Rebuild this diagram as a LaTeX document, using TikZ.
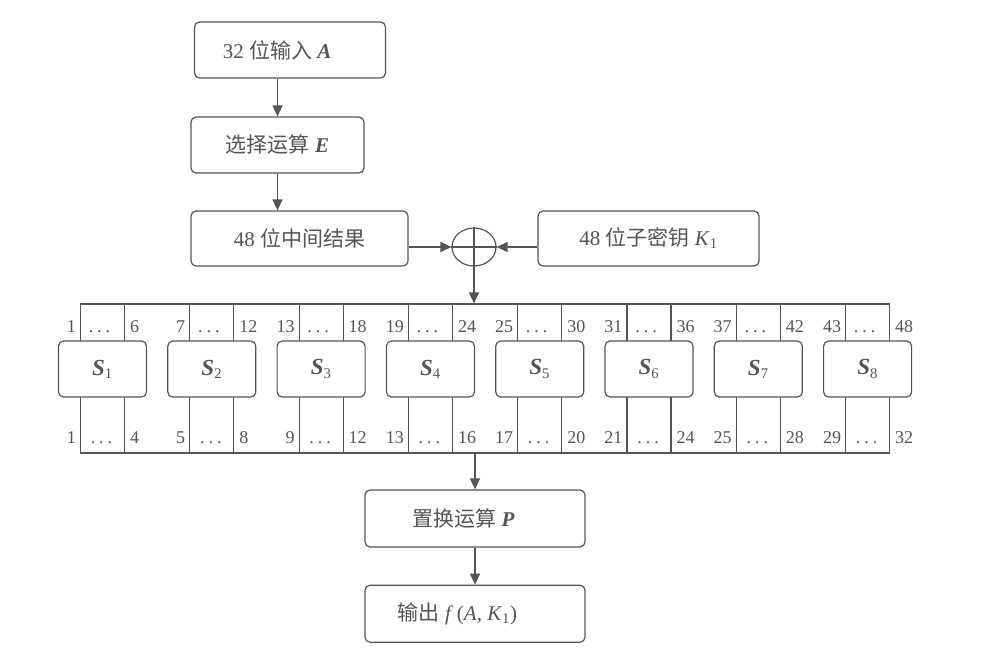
\documentclass[tikz,border=0pt]{standalone}
\usepackage{fontspec}
\setmainfont{Liberation Serif}
\newfontfamily\cjkfont{Noto Sans CJK SC}
\usetikzlibrary{positioning,arrows.meta,shapes.geometric}
\definecolor{lngray}{HTML}{555555}
\newcommand\sdots{.\hspace{4pt}.\hspace{4pt}.}

\begin{document}
\begin{tikzpicture}[x=1pt,y=-1pt,>={Triangle[length=11pt,width=10pt]},color=lngray,line width=1.2pt,
  box/.style={draw,rounded corners=5pt,fill=white,inner sep=0pt,minimum height=56pt,font=\fontsize{21}{24}\selectfont},
  sbox/.style={box,minimum width=88pt},
  pushleft/.style={execute at end node={\hspace*{#1}}},
  num/.style={inner sep=0pt,font=\fontsize{18}{20}\selectfont}]
\useasboundingbox (0,0) rectangle (981,654);
\node (inA) [box,minimum width=191pt,pushleft=26pt] at (290,50) {32 {\cjkfont 位输入} \textbf{\textit{A}}};
\node (selE) [box,minimum width=173pt] at (277.5,145) {{\cjkfont 选择运算} \textbf{\textit{E}}};
\node (mid48) [box,minimum width=217pt,minimum height=55pt] at (299.5,238.5) {48 {\cjkfont 位中间结果}};
\node (key) [box,minimum width=221pt,minimum height=55pt] at (648.5,238.5) {48 {\cjkfont 位子密钥} \textit{K}\textsubscript{1}};
\node (xor) [draw,ellipse,inner sep=0pt,minimum width=44pt,minimum height=38pt] at (474,247) {};
\draw (xor.north)--(xor.south);\draw (xor.west)--(xor.east);
\node (strip) [draw,inner sep=0pt,minimum width=809pt,minimum height=149pt] at (485.1,378.5) {};
\foreach \i/\ta/\tb/\ba/\bb in {1/1/6/1/4,2/7/12/5/8,3/13/18/9/12,4/19/24/13/16,5/25/30/17/20,6/31/36/21/24,7/37/42/25/28,8/43/48/29/32}{
  \pgfmathsetmacro\c{102.5+109.3*(\i-1)}
  \draw (\c-22,304)--(\c-22,453);\draw (\c+22,304)--(\c+22,453);
  \node (s\i) [sbox] at (\c,369) {{\fontsize{23}{24}\selectfont\bfseries\itshape S}\textsubscript{\normalfont\i}};
  \node (ta\i) [num,anchor=base east] at (\c-26,332) {\ta};
  \node (td\i) [num,anchor=base] at (\c-3,332) {\sdots};
  \node (tb\i) [num,anchor=base west] at (\c+27,332) {\tb};
  \node (ba\i) [num,anchor=base east] at (\c-26,443) {\ba};
  \node (bd\i) [num,anchor=base] at (\c-1,443) {\sdots};
  \node (bb\i) [num,anchor=base west] at (\c+27,443) {\bb};
}
\node (permP) [box,minimum width=220pt,minimum height=57pt,pushleft=23pt] at (475,518.5) {{\cjkfont 置换运算} \textbf{\textit{P}}};
\node (outF) [box,minimum width=220pt,minimum height=57pt,pushleft=35pt,below=37pt of permP] {{\cjkfont 输出} \textit{f}\,(\textit{A}, \textit{K}\textsubscript{1})};
\draw[->] (inA.south -| selE)--(selE);\draw[->] (selE)--(mid48.north -| selE);
\draw[->] (mid48.east |- xor)--(xor);\draw[->] (key.west |- xor)--(xor);
\draw[->] (xor)--(xor |- strip.north);\draw[->] (strip.south -| permP)--(permP);\draw[->] (permP)--(outF);
\end{tikzpicture}
\end{document}
